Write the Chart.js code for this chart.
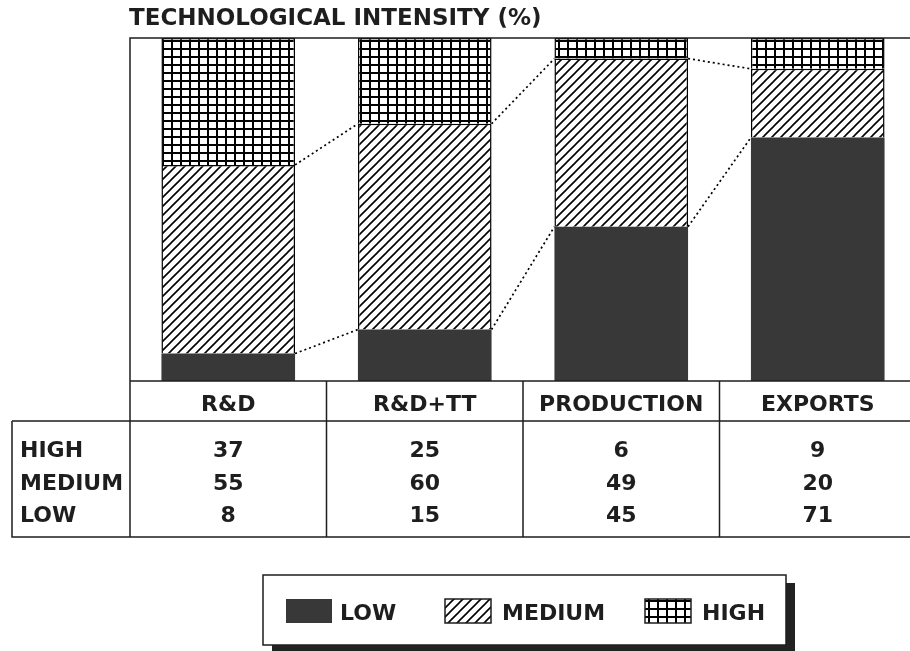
<!DOCTYPE html>
<html>
<head>
<meta charset="utf-8">
<script src="https://cdn.jsdelivr.net/npm/chart.js@4/dist/chart.umd.min.js"></script>
<style>
  html, body { margin: 0; background: #fff; overflow: hidden; }
  #wrap { width: 910px; height: 651px; overflow: hidden; }
</style>
</head>
<body>
<div id="wrap"><canvas id="techChart" width="916" height="651"></canvas></div>
<script>
const categories = ["R&D", "R&D+TT", "PRODUCTION", "EXPORTS"];
const lowValues = [8, 15, 45, 71];
const mediumValues = [55, 60, 49, 20];
const highValues = [37, 25, 6, 9];
const seriesNames = ["LOW", "MEDIUM", "HIGH"];
const chartTitle = "TECHNOLOGICAL INTENSITY (%)";

const DARK = "#383838";
const INK = "#1e1e1e";
const FONT = 'bold 22px "DejaVu Sans"';

function hatchPattern() {
  const c = document.createElement("canvas");
  c.width = 9;
  c.height = 9;
  const g = c.getContext("2d");
  g.fillStyle = "#fff";
  g.fillRect(0, 0, 9, 9);
  g.strokeStyle = "#000";
  g.lineWidth = 1.6;
  g.beginPath();
  g.moveTo(-1, 10);
  g.lineTo(10, -1);
  g.moveTo(-1, 1);
  g.lineTo(1, -1);
  g.moveTo(8, 10);
  g.lineTo(10, 8);
  g.stroke();
  return g.createPattern(c, "repeat");
}

function gridPattern() {
  const c = document.createElement("canvas");
  c.width = 9;
  c.height = 8;
  const g = c.getContext("2d");
  g.fillStyle = "#fff";
  g.fillRect(0, 0, 9, 8);
  g.fillStyle = "#000";
  g.fillRect(0, 0, 9, 2);
  g.fillRect(0, 0, 2, 8);
  return g.createPattern(c, "repeat");
}

const mediumFill = hatchPattern();
const highFill = gridPattern();

// dotted lines joining the segment tops of neighbouring bars
const connectors = {
  id: "connectors",
  afterDatasetsDraw(chart) {
    const ctx = chart.ctx;
    ctx.save();
    ctx.strokeStyle = "#000";
    ctx.lineWidth = 1.7;
    ctx.setLineDash([2, 3]);
    [0, 1].forEach((d) => {
      const bars = chart.getDatasetMeta(d).data;
      for (let i = 0; i < bars.length - 1; i++) {
        ctx.beginPath();
        ctx.moveTo(bars[i].x + bars[i].width / 2, bars[i].y);
        ctx.lineTo(bars[i + 1].x - bars[i + 1].width / 2, bars[i + 1].y);
        ctx.stroke();
      }
    });
    ctx.restore();
  },
};

// frame, title, data table and boxed legend
const extras = {
  id: "extras",
  afterDraw(chart) {
    const ctx = chart.ctx;
    const { left, right, top, bottom } = chart.chartArea;
    const xs = chart.scales.x;

    ctx.save();
    ctx.strokeStyle = INK;
    ctx.lineWidth = 1.5;
    ctx.beginPath();
    ctx.moveTo(left, bottom);
    ctx.lineTo(left, top);
    ctx.lineTo(right, top);
    ctx.moveTo(left, bottom);
    ctx.lineTo(right, bottom);
    ctx.stroke();

    ctx.fillStyle = INK;
    ctx.font = '900 23px "DejaVu Sans"';
    ctx.textAlign = "left";
    ctx.fillText(chartTitle, 129, 25);

    // table
    const headBottom = 421;
    const tableBottom = 537;
    const labelLeft = 12;
    const bounds = [left];
    for (let i = 0; i < categories.length - 1; i++) {
      bounds.push((xs.getPixelForValue(i) + xs.getPixelForValue(i + 1)) / 2);
    }
    ctx.beginPath();
    bounds.forEach((b) => {
      ctx.moveTo(b, bottom);
      ctx.lineTo(b, tableBottom);
    });
    ctx.moveTo(labelLeft, headBottom);
    ctx.lineTo(right, headBottom);
    ctx.moveTo(labelLeft, headBottom);
    ctx.lineTo(labelLeft, tableBottom);
    ctx.lineTo(right, tableBottom);
    ctx.stroke();

    ctx.font = FONT;
    ctx.textAlign = "center";
    categories.forEach((c, i) => ctx.fillText(c, xs.getPixelForValue(i), 411));

    const rows = [
      [seriesNames[2], highValues, 457],
      [seriesNames[1], mediumValues, 490],
      [seriesNames[0], lowValues, 522],
    ];
    rows.forEach(([name, vals, y]) => {
      ctx.textAlign = "left";
      ctx.fillText(name, 20, y);
      ctx.textAlign = "center";
      vals.forEach((v, i) => ctx.fillText(String(v), xs.getPixelForValue(i), y));
    });

    // legend box with drop shadow
    const bx = 263, by = 575, bw = 523, bh = 70;
    ctx.fillStyle = "#222";
    ctx.fillRect(bx + 9, by + 8, bw, bh);
    ctx.fillStyle = "#fff";
    ctx.fillRect(bx, by, bw, bh);
    ctx.strokeRect(bx, by, bw, bh);

    const items = [
      [DARK, false, 286, 340],
      [mediumFill, true, 445, 502],
      [highFill, true, 645, 702],
    ];
    items.forEach(([fill, outline, sx, tx], k) => {
      ctx.fillStyle = fill;
      ctx.fillRect(sx, 599, 46, 24);
      if (outline) {
        ctx.lineWidth = 1.5;
        ctx.strokeRect(sx, 599, 46, 24);
      }
      ctx.fillStyle = INK;
      ctx.textAlign = "left";
      ctx.fillText(chart.data.datasets[k].label, tx, 620);
    });
    ctx.restore();
  },
};

new Chart(document.getElementById("techChart"), {
  type: "bar",
  data: {
    labels: categories,
    datasets: [
      {
        label: seriesNames[0],
        data: lowValues,
        backgroundColor: DARK,
        borderWidth: 0,
      },
      {
        label: seriesNames[1],
        data: mediumValues,
        backgroundColor: mediumFill,
        borderColor: "#000",
        borderWidth: 1.5,
      },
      {
        label: seriesNames[2],
        data: highValues,
        backgroundColor: highFill,
        borderColor: "#000",
        borderWidth: 1.5,
      },
    ],
  },
  options: {
    responsive: false,
    animation: false,
    layout: { padding: { left: 130, top: 38, right: 0, bottom: 270 } },
    datasets: { bar: { categoryPercentage: 1, barPercentage: 0.68 } },
    scales: {
      x: { stacked: true, display: false },
      y: { stacked: true, display: false, min: 0, max: 100 },
    },
    plugins: {
      legend: { display: false },
      tooltip: { enabled: false },
    },
  },
  plugins: [connectors, extras],
});
</script>
</body>
</html>
